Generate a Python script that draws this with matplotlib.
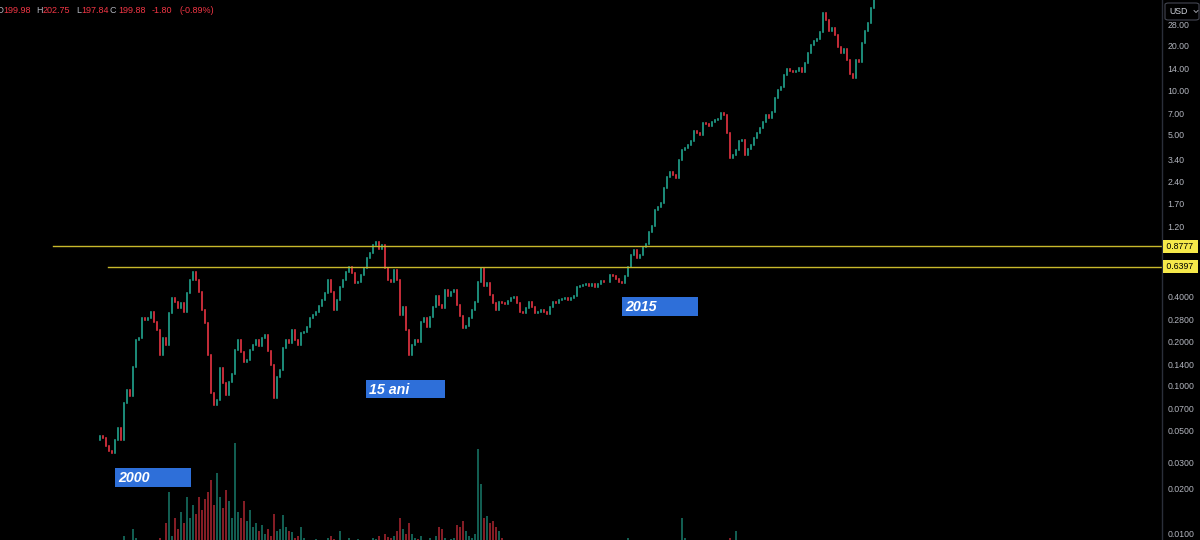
import matplotlib
matplotlib.use("Agg")
import matplotlib.pyplot as plt
import matplotlib.ticker as mticker
import matplotlib.transforms as mtransforms
from matplotlib.patches import Rectangle, FancyBboxPatch
import numpy as np

plt.rcParams['font.family'] = ['Liberation Sans', 'DejaVu Sans']

# ---------------- data ----------------
closes = [
    0.0428, 0.0455, 0.0441, 0.0390, 0.0360, 0.0349, 0.0428, 0.0516, 0.0428, 0.0762,
    0.0934, 0.0851, 0.1336, 0.204, 0.210, 0.287, 0.278, 0.287, 0.315, 0.269,
    0.238, 0.161, 0.210, 0.189, 0.310, 0.392, 0.368, 0.335, 0.363, 0.315,
    0.424, 0.519, 0.587, 0.519, 0.430, 0.325, 0.265, 0.161, 0.0891, 0.0739,
    0.0799, 0.1315, 0.104, 0.0864, 0.1057, 0.1203, 0.174, 0.204, 0.169, 0.1444,
    0.149, 0.174, 0.189, 0.204, 0.186, 0.210, 0.220, 0.171, 0.138, 0.0824,
    0.1148, 0.128, 0.180, 0.204, 0.195, 0.238, 0.204, 0.189, 0.227, 0.231,
    0.249, 0.287, 0.301, 0.315, 0.346, 0.380, 0.424, 0.519, 0.430, 0.325,
    0.380, 0.465, 0.519, 0.587, 0.636, 0.578, 0.495, 0.503, 0.561, 0.626,
    0.731, 0.790, 0.895, 0.938, 0.841, 0.895, 0.626, 0.519, 0.503, 0.606,
    0.519, 0.301, 0.341, 0.238, 0.161, 0.189, 0.204, 0.198, 0.269, 0.287,
    0.249, 0.291, 0.341, 0.404, 0.352, 0.335, 0.444, 0.404, 0.430, 0.444,
    0.352, 0.296, 0.245, 0.253, 0.287, 0.325, 0.368, 0.503, 0.626, 0.473,
    0.495, 0.411, 0.363, 0.325, 0.368, 0.363, 0.355, 0.374, 0.392, 0.398,
    0.363, 0.315, 0.310, 0.335, 0.368, 0.341, 0.310, 0.315, 0.325, 0.315,
    0.305, 0.341, 0.368, 0.363, 0.380, 0.386, 0.392, 0.380, 0.392, 0.404,
    0.465, 0.473, 0.480, 0.488, 0.473, 0.488, 0.465, 0.488, 0.511, 0.505,
    0.503, 0.561, 0.553, 0.527, 0.503, 0.495, 0.552, 0.636, 0.766, 0.828,
    0.731, 0.766, 0.868, 0.909, 1.096, 1.204, 1.545, 1.619, 1.723, 2.18,
    2.58, 2.79, 2.66, 2.54, 3.37, 3.94, 4.06, 4.26, 4.53, 5.30,
    5.13, 4.98, 6.00, 5.92, 5.73, 6.10, 6.29, 6.39, 7.01, 6.80,
    5.13, 3.48, 3.64, 3.94, 4.53, 4.60, 3.64, 4.00, 4.26, 4.75,
    5.13, 5.55, 6.10, 6.80, 6.49, 7.12, 8.85, 10.03, 10.52, 12.67,
    13.9, 13.49, 13.28, 13.49, 14.12, 13.28, 15.27, 17.85, 20.26, 21.56,
    22.24, 24.81, 33.3, 29.9, 25.2, 26.4, 23.7, 19.6, 17.85, 19.0,
    16.0, 12.87, 12.09, 16.0, 15.5, 20.9, 25.2, 28.5, 36.0, 44.1,
]

volumes = [
    60, 55, 50, 70, 65, 60, 75, 90, 80, 120,
    95, 100, 150, 110, 90, 85, 80, 75, 90, 95,
    100, 110, 100, 180, 320, 120, 200, 150, 230, 180,
    300, 200, 260, 220, 300, 240, 290, 320, 380, 260,
    410, 300, 250, 330, 280, 200, 550, 230, 200, 280,
    190, 240, 160, 180, 140, 170, 130, 150, 120, 220,
    140, 150, 215, 160, 140, 135, 110, 120, 160, 110,
    100, 95, 90, 105, 95, 90, 100, 110, 120, 105,
    95, 140, 100, 95, 110, 100, 95, 105, 90, 100,
    95, 100, 110, 105, 120, 100, 130, 115, 110, 120,
    140, 200, 150, 130, 180, 130, 110, 105, 120, 100,
    95, 110, 100, 120, 160, 150, 110, 100, 105, 110,
    170, 160, 190, 140, 120, 110, 130, 520, 360, 200,
    210, 180, 190, 160, 140, 110, 100, 95, 90, 95,
    100, 95, 90, 85, 90, 95, 90, 85, 80, 85,
    90, 85, 80, 85, 90, 80, 75, 80, 85, 80,
    90, 85, 80, 85, 80, 75, 80, 85, 80, 75,
    80, 85, 80, 75, 80, 90, 95, 110, 100, 95,
    100, 90, 95, 100, 90, 95, 100, 95, 90, 100,
    95, 90, 85, 90, 95, 200, 110, 90, 85, 80,
    85, 80, 75, 80, 85, 80, 75, 80, 85, 90,
    100, 110, 100, 140, 95, 90, 100, 90, 85, 80,
    80, 75, 80, 85, 80, 90, 85, 80, 75, 80,
    75, 80, 75, 70, 75, 70, 75, 80, 75, 70,
    75, 80, 85, 90, 80, 75, 85, 90, 80, 85,
    90, 95, 85, 80, 75, 80, 75, 80, 85, 90,
]

price_ticks = [28, 20, 14, 10, 7, 5, 3.4, 2.4, 1.7, 1.2,
               0.4, 0.28, 0.2, 0.14, 0.1, 0.07, 0.05, 0.03, 0.02, 0.01]
price_tick_labels = ["28.00", "20.00", "14.00", "10.00", "7.00", "5.00", "3.40",
                     "2.40", "1.70", "1.20", "0.4000", "0.2800", "0.2000", "0.1400",
                     "0.1000", "0.0700", "0.0500", "0.0300", "0.0200", "0.0100"]

level_prices = [0.8777, 0.6397]
level_labels = ["0.8777", "0.6397"]

annotation_texts = ["2000", "15 ani", "2015"]

ohlc_letters = ["O", "H", "L", "C"]
ohlc_values = ["199.98", "202.75", "197.84", "199.88"]
change_text = ["-1.80", "(-0.89%)"]

# ---------------- styling ----------------
W, H = 1200, 540
BG = "#000000"
UP = "#22ab94"
DOWN = "#f23645"
AXIS_TXT = "#b2b5be"
LEVEL_LINE = "#c8b82c"
LEVEL_BOX = "#f5e84a"
NOTE_BOX = "#2e6fd9"

def fx(px):
    return px / W

def fy(py):
    return 1 - py / H

fig = plt.figure(figsize=(12, 5.4), dpi=100, facecolor=BG)
plot_w = 1162 / W

x = np.arange(len(closes))
c = np.array(closes)
o = np.concatenate([[c[0]], c[:-1]])
up = c >= o
cols = [UP if u else DOWN for u in up]

# volume pane (its base lies just below the visible area)
vax = fig.add_axes([0, -0.04, plot_w, 0.4])
vax.set_zorder(0)
vax.bar(x, volumes, width=0.55, color=cols, alpha=0.55, linewidth=0)
vax.set_xlim(-32.33, 355)
vax.set_ylim(0, 1000)
vax.axis("off")

# price pane
ax = fig.add_axes([0, 0, plot_w, 1])
ax.set_zorder(1)
ax.patch.set_alpha(0)
ax.set_yscale("log")
ax.set_xlim(-32.33, 355)
ax.set_ylim(0.00901, 40.8)

lc = ax.vlines(x, np.minimum(o, c), np.maximum(o, c), colors=cols, linewidth=1.15)
lc.set_capstyle("projecting")

# horizontal levels
ax.axhline(level_prices[0], xmin=53 / 1162, xmax=1, color=LEVEL_LINE, lw=1.0)
ax.axhline(level_prices[1], xmin=108 / 1162, xmax=1, color=LEVEL_LINE, lw=1.0)

# axes styling
for s in ["top", "left", "bottom"]:
    ax.spines[s].set_visible(False)
ax.spines["right"].set_color("#2a2e39")
ax.spines["right"].set_linewidth(1.0)
ax.yaxis.tick_right()
ax.set_yticks(price_ticks)
ax.set_yticklabels(price_tick_labels)
ax.yaxis.set_minor_locator(mticker.NullLocator())
ax.tick_params(axis="y", length=0, pad=4, labelsize=6.3, labelcolor=AXIS_TXT)
ax.tick_params(axis="x", which="both", bottom=False, labelbottom=False)

# level price labels on the axis
trans = mtransforms.blended_transform_factory(fig.transFigure, ax.transData)
for p, lab in zip(level_prices, level_labels):
    fig.text(fx(1164.5), p, " " + lab + " ", transform=trans, fontsize=6.3,
             color="black", va="center", ha="left", zorder=5,
             bbox=dict(boxstyle="square,pad=0.2", fc=LEVEL_BOX, ec="none"))

# USD button
btn = FancyBboxPatch((fx(1165), fy(20)), fx(1199) - fx(1165), fy(3) - fy(20),
                     boxstyle="round,pad=0,rounding_size=0.003",
                     transform=fig.transFigure, fc=BG, ec="#434651", lw=0.8, zorder=6)
fig.patches.append(btn)
fig.text(fx(1169), fy(11.5), "USD", fontsize=6.3, color="#d1d4dc", va="center",
         ha="left", zorder=7)
fig.lines.append(plt.Line2D([fx(1194), fx(1196), fx(1198)], [fy(10.5), fy(12.5), fy(10.5)],
                            transform=fig.transFigure, color="#b2b5be", lw=0.6, zorder=7))

# annotation boxes
boxes = [(115, 468, 191, 487), (366, 380, 445, 398), (622, 297, 698, 316)]
for (x0, y0, x1, y1), txt in zip(boxes, annotation_texts):
    r = Rectangle((fx(x0), fy(y1)), fx(x1) - fx(x0), fy(y0) - fy(y1),
                  transform=fig.transFigure, fc=NOTE_BOX, ec="none", zorder=4)
    fig.patches.append(r)
    fig.text(fx(x0 + 3), fy((y0 + y1) / 2 + 0.5), txt, fontsize=10.3, color="white",
             fontweight="bold", style="italic", va="center", ha="left", zorder=5)

# OHLC header
yh = fy(10.5)
letter_x = [-3, 36.5, 76, 110]
value_x = [3.5, 43, 81.5, 118.5]
for lx, vx_, l, v in zip(letter_x, value_x, ohlc_letters, ohlc_values):
    fig.text(fx(lx), yh, l, fontsize=6.5, color=AXIS_TXT, va="center", ha="left")
    fig.text(fx(vx_), yh, v, fontsize=6.5, color=DOWN, va="center", ha="left")
fig.text(fx(152), yh, change_text[0], fontsize=6.5, color=DOWN, va="center", ha="left")
fig.text(fx(180), yh, change_text[1], fontsize=6.5, color=DOWN, va="center", ha="left")

fig.savefig("out.png", dpi=100, facecolor=BG)
